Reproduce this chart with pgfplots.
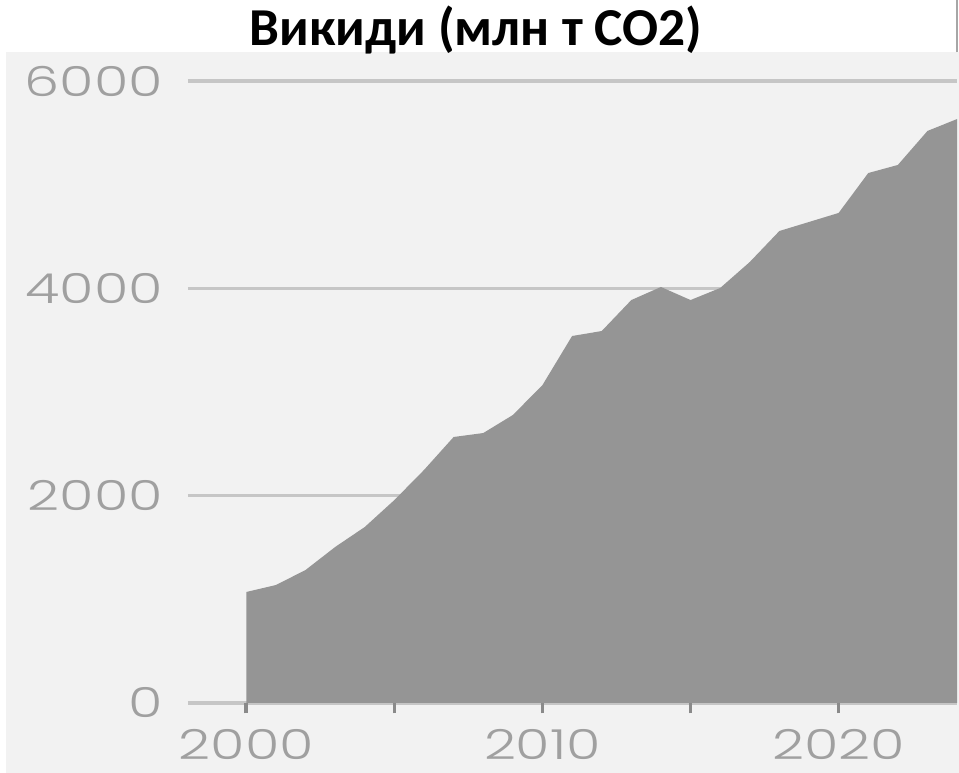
\documentclass[border=0pt]{standalone}
\usepackage{fontspec}
\setmainfont{Carlito}
\newfontfamily\tickfont[FakeStretch=1.35]{Poppins Light}
\usepackage{pgfplots}
\pgfplotsset{compat=1.18}
\definecolor{bggray}{HTML}{F2F2F2}
\definecolor{areagray}{HTML}{959595}
\definecolor{gridgray}{HTML}{C6C6C6}
\definecolor{labgray}{HTML}{A0A0A0}
\definecolor{tickgray}{HTML}{8A8A8A}
\begin{document}
\begin{tikzpicture}
\fill[bggray] (-68.25pt,-26.25pt) rectangle (289.125pt,244.1pt);
\draw[gray!70,line width=0.5pt] (288.4pt,244.1pt) -- (288.4pt,263.625pt);
\begin{axis}[
  scale only axis,
  width=288.4pt, height=233.25pt,
  xmin=1998.03, xmax=2024,
  ymin=0, ymax=6000,
  axis line style={draw=none},
  clip=false,
  xtick={2000,2005,2010,2015,2020},
  xticklabels={2000,,2010,,2020},
  ytick={0,2000,4000,6000},
  yticklabels={0,2000,4000,6000},
  xtick pos=left,
  tick align=outside,
  x tick style={draw=tickgray,line width=1.4pt},
  major tick length=3.9pt,
  y tick style={draw=none},
  ymajorgrids,
  grid style={draw=gridgray,line width=1.35pt},
  tick label style={font=\tickfont\fontsize{15.5}{16}\selectfont, text=labgray},
  xticklabel style={anchor=center, yshift=-11.5pt},
  yticklabel style={anchor=east, xshift=-2pt},
]
\addplot[fill=areagray, draw=none] coordinates {
(2000,1071) (2001,1138) (2002,1283) (2003,1505) (2004,1698)
(2005,1958) (2006,2248) (2007,2566) (2008,2604) (2009,2778)
(2010,3067) (2011,3540) (2012,3588) (2013,3887) (2014,4013)
(2015,3887) (2016,4003) (2017,4254) (2018,4553) (2019,4640)
(2020,4727) (2021,5112) (2022,5190) (2023,5518) (2024,5633)
} \closedcycle;
\node[font=\bfseries\fontsize{20}{22}\selectfont, anchor=center, inner sep=0pt]
  at (rel axis cs:0.3745,1.0822) {Викиди (млн т CO2)};
\end{axis}
\pgfresetboundingbox
\useasboundingbox (-70.5pt,-26.25pt) rectangle (289.125pt,263.625pt);
\end{tikzpicture}
\end{document}
